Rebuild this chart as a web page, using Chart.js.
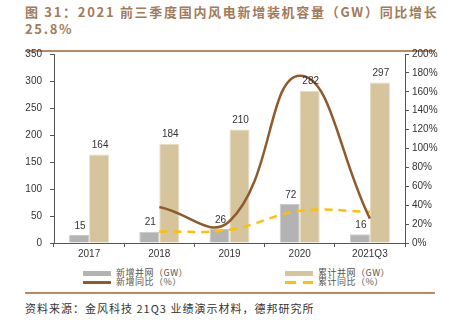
<!DOCTYPE html>
<html>
<head>
<meta charset="utf-8">
<script src="https://cdn.jsdelivr.net/npm/chart.js@4/dist/chart.umd.min.js"></script>
<style>
  body { margin: 0; background: #fff; }
  #wrap { position: relative; width: 450px; height: 327px; overflow: hidden; font-family: "Noto Sans CJK SC", "Liberation Sans", sans-serif; }
  #title { position: absolute; left: 25px; top: 3px; width: 425px; font-size: 13px; font-weight: bold; line-height: 17px; color: #a27b5a; letter-spacing: 1.7px; }
  .rule { position: absolute; left: 25px; width: 410px; height: 1.5px; background: #b98a66; }
  #chart { position: absolute; left: 0; top: 40px; }
  .lg { position: absolute; font-size: 9px; color: #555; line-height: 10px; letter-spacing: 0.5px; }
  .sw { position: absolute; width: 28px; }
  #source { position: absolute; left: 25px; top: 300px; font-size: 11px; color: #333; letter-spacing: 1px; }
</style>
</head>
<body>
<div id="wrap">
  <div id="title">图 31：2021 前三季度国内风电新增装机容量（GW）同比增长 25.8%</div>
  <div class="rule" style="top:50px"></div>
  <canvas id="chart" width="450" height="225"></canvas>
  <div id="legend"></div>
  <div class="rule" style="top:292px"></div>
  <div id="source">资料来源：金风科技 21Q3 业绩演示材料，德邦研究所</div>
</div>
<script>
const categories = ['2017', '2018', '2019', '2020', '2021Q3'];
const newGrid = [15, 21, 26, 72, 16];          // 新增并网 (GW)
const totalGrid = [164, 184, 210, 282, 297];    // 累计并网 (GW)
const newYoy = [null, 38, 23, 177, 25.8];       // 新增同比 (%)
const totalYoy = [null, 12, 14, 34, 33];        // 累计同比 (%)

const GRAY = '#b3b3b3';
const BEIGE = '#d5c49c';
const BROWN = '#8f5a2c';
const YELLOW = '#ffc000';

// 柱子上方的数值
const barLabels = {
    id: 'barLabels',
    afterDatasetsDraw(chart) {
        const ctx = chart.ctx;
        ctx.save();
        ctx.font = '10px "Liberation Sans", Arial, sans-serif';
        ctx.fillStyle = '#333';
        ctx.textAlign = 'center';
        ctx.textBaseline = 'bottom';
        chart.data.datasets.forEach((ds, i) => {
            if (ds.type !== 'bar') return;
            chart.getDatasetMeta(i).data.forEach((bar, j) => {
                ctx.fillText(ds.data[j], bar.x + 1, bar.y - 4);
            });
        });
        ctx.restore();
    }
};

const tickFont = { family: '"Liberation Sans", Arial, sans-serif', size: 10 };

new Chart(document.getElementById('chart').getContext('2d'), {
    data: {
        labels: categories,
        datasets: [
            { type: 'line', label: '新增同比（%）', data: newYoy, yAxisID: 'y1', borderColor: BROWN, borderWidth: 2.5, pointRadius: 0, tension: 0.45, fill: false, order: 0 },
            { type: 'line', label: '累计同比（%）', data: totalYoy, yAxisID: 'y1', borderColor: YELLOW, borderWidth: 2.5, borderDash: [8, 6], pointRadius: 0, tension: 0.4, fill: false, order: 0 },
            { type: 'bar', label: '新增并网（GW）', data: newGrid, yAxisID: 'y', backgroundColor: GRAY, borderColor: '#c9c9c9', borderWidth: 1, order: 1 },
            { type: 'bar', label: '累计并网（GW）', data: totalGrid, yAxisID: 'y', backgroundColor: BEIGE, borderColor: '#e6dbc2', borderWidth: 1, order: 1 }
        ]
    },
    options: {
        responsive: false,
        animation: false,
        devicePixelRatio: 1,
        layout: { padding: { top: 13, left: 0, right: 0, bottom: 0 } },
        datasets: { bar: { categoryPercentage: 0.57, barPercentage: 1 } },
        plugins: { legend: { display: false }, tooltip: { enabled: false } },
        scales: {
            x: {
                offset: true,
                grid: { offset: true, drawOnChartArea: false, drawTicks: true, tickLength: 4, tickColor: '#555' },
                border: { color: '#555' },
                ticks: { font: tickFont, color: '#333', padding: 1, maxRotation: 0 },
                afterFit(s) { s.height = 22; }
            },
            y: {
                position: 'left',
                min: 0, max: 350,
                grid: { drawOnChartArea: false, drawTicks: true, tickLength: 4, tickColor: '#555' },
                border: { color: '#555' },
                ticks: { stepSize: 50, font: tickFont, color: '#333', padding: 8 },
                afterFit(s) { s.width = 54; }
            },
            y1: {
                position: 'right',
                min: 0, max: 200,
                grid: { drawOnChartArea: false, drawTicks: true, tickLength: 4, tickColor: '#555' },
                border: { color: '#555' },
                ticks: { stepSize: 20, font: tickFont, color: '#333', padding: 3, callback: v => v + '%' },
                afterFit(s) { s.width = 45; }
            }
        }
    },
    plugins: [barLabels]
});

// 图例（两列）
const legendItems = [
    { text: '新增并网（GW）', left: 83, top: 268, swatch: `background:${GRAY};height:5px;margin-top:3px` },
    { text: '累计并网（GW）', left: 285, top: 268, swatch: `background:${BEIGE};height:5px;margin-top:3px` },
    { text: '新增同比（%）', left: 83, top: 277, swatch: `background:${BROWN};height:3px;margin-top:4px` },
    { text: '累计同比（%）', left: 285, top: 277, swatch: `background:repeating-linear-gradient(90deg, ${YELLOW} 0 11px, transparent 11px 18px);height:3px;margin-top:4px` }
];
const legend = document.getElementById('legend');
legend.innerHTML = legendItems.map(it => `
    <div class="sw" style="left:${it.left}px;top:${it.top}px;${it.swatch}"></div>
    <div class="lg" style="left:${it.left + 33}px;top:${it.top}px">${it.text}</div>`).join('');
</script>
</body>
</html>
